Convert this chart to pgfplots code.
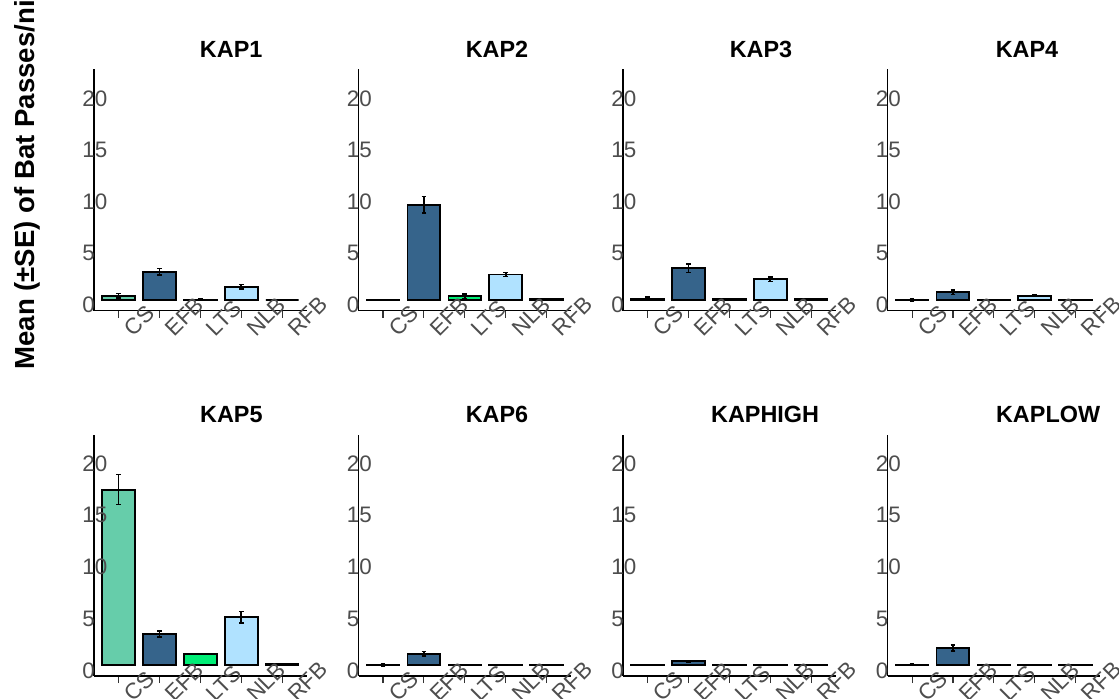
\documentclass[border=0pt]{standalone}
\usepackage{pgfplots}
\pgfplotsset{compat=1.18}
\usepackage{pgfplotstable}
\usepackage{fontspec}
\setmainfont{Liberation Sans}
\definecolor{cCS}{HTML}{66CDAA}
\definecolor{cEFB}{HTML}{36648B}
\definecolor{cLTS}{HTML}{00EE76}
\definecolor{cNLB}{HTML}{B0E2FF}
\definecolor{cRFB}{HTML}{8B8B8B}
\definecolor{tickgray}{HTML}{4D4D4D}

\pgfplotstableread{
x y e
1 0.42 0.20
2 2.74 0.30
3 0.03 0.05
4 1.29 0.22
5 0.00 0.00
}\kapone
\pgfplotstableread{
x y e
1 0.02 0.00
2 9.20 0.80
3 0.35 0.22
4 2.47 0.20
5 0.12 0.03
}\kaptwo
\pgfplotstableread{
x y e
1 0.15 0.12
2 3.07 0.40
3 0.08 0.03
4 2.00 0.22
5 0.08 0.00
}\kapthree
\pgfplotstableread{
x y e
1 0.03 0.10
2 0.74 0.22
3 0.02 0.00
4 0.42 0.05
5 0.02 0.00
}\kapfour
\pgfplotstableread{
x y e
1 17.00 1.45
2 3.04 0.30
3 1.10 0.06
4 4.65 0.56
5 0.10 0.00
}\kapfive
\pgfplotstableread{
x y e
1 0.05 0.12
2 1.13 0.22
3 0.02 0.00
4 0.02 0.00
5 0.02 0.00
}\kapsix
\pgfplotstableread{
x y e
1 0.03 0.00
2 0.39 0.05
3 0.02 0.00
4 0.02 0.00
5 0.02 0.00
}\kaphigh
\pgfplotstableread{
x y e
1 0.08 0.03
2 1.68 0.28
3 0.06 0.00
4 0.06 0.00
5 0.06 0.00
}\kaplow

\pgfplotsset{
  panel/.style={
    scale only axis, width=106.35pt, height=120.7pt, anchor=south west,
    xmin=0.4, xmax=5.6, ymin=-1.036, ymax=22.33,
    axis x line*=bottom, axis y line*=left,
    axis line style={line width=0.6pt, black, -},
    axis on top=true,
    xtick={1,2,3,4,5}, xticklabels={CS,EFB,LTS,NLB,RFB},
    ytick={0,5,10,15,20},
    tick align=outside, major tick length=3.5pt,
    x tick style={line width=0.55pt, color=black!80},
    y tick style={draw=none},
    ticklabel style={font=\fontsize{11.2}{13}\selectfont, text=tickgray, inner sep=0pt},
    xticklabel style={anchor=base west, xshift=7.5pt, yshift=-10pt, rotate=45},
    yticklabel style={anchor=west, xshift=-2.5pt, yshift=-2.5pt},
    /pgf/number format/assume math mode=true,
    clip=false,
    every axis title shift=0pt,
    title style={font=\bfseries\fontsize{11.7}{13}\selectfont, anchor=center, inner sep=0pt, yshift=9.9pt},
  },
  bb/.style={
    ybar, bar width=0.8, bar shift=0pt, draw=black, line width=0.9pt,
    /pgfplots/error bars/y dir=both,
    /pgfplots/error bars/y explicit,
    /pgfplots/error bars/error bar style={line width=0.8pt, black, solid},
    /pgfplots/error bars/error mark options={rotate=90, mark size=1.2pt, line width=0.8pt, black},
  },
}

\newcommand\panel[4]{%
\begin{axis}[panel, at={#1}, title={#2}, title style={at={(axis description cs:#4,1)}}]
\addplot[bb, fill=cCS, restrict x to domain=1:1] table[x=x,y=y,y error=e]{#3};
\addplot[bb, fill=cEFB, restrict x to domain=2:2] table[x=x,y=y,y error=e]{#3};
\addplot[bb, fill=cLTS, restrict x to domain=3:3] table[x=x,y=y,y error=e]{#3};
\addplot[bb, fill=cNLB, restrict x to domain=4:4] table[x=x,y=y,y error=e]{#3};
\addplot[bb, fill=cRFB, restrict x to domain=5:5] table[x=x,y=y,y error=e]{#3};
\end{axis}}

\begin{document}
\begin{tikzpicture}
\useasboundingbox (0,0) rectangle (559.5pt,-349.5pt);
\clip (0,0) rectangle (559.5pt,-349.5pt);
\panel{(47pt,-155.35pt)}{KAP1}{\kapone}{0.645}
\panel{(179.25pt,-155.35pt)}{KAP2}{\kaptwo}{0.651}
\panel{(311.5pt,-155.35pt)}{KAP3}{\kapthree}{0.649}
\panel{(443.75pt,-155.35pt)}{KAP4}{\kapfour}{0.656}
\panel{(47pt,-338pt)}{KAP5}{\kapfive}{0.646}
\panel{(179.25pt,-338pt)}{KAP6}{\kapsix}{0.651}
\panel{(311.5pt,-338pt)}{KAPHIGH}{\kaphigh}{0.668}
\panel{(443.75pt,-338pt)}{KAPLOW}{\kaplow}{0.755}
\node[rotate=90, anchor=base west, inner sep=0pt, font=\bfseries\fontsize{13.8}{15}\selectfont] at (17.3pt,-185pt) {Mean (±SE) of Bat Passes/ni};
\end{tikzpicture}
\end{document}
